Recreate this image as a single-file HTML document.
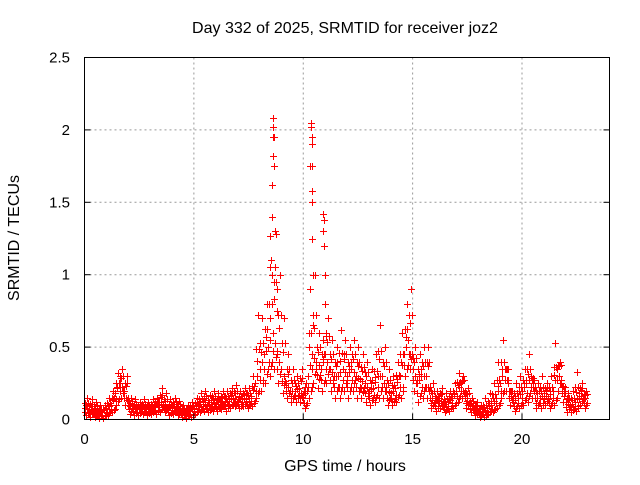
<!DOCTYPE html>
<html><head><meta charset="utf-8"><style>
body{margin:0;background:#fff;font-family:"Liberation Sans",sans-serif}
svg text{font-family:"Liberation Sans",sans-serif;font-size:15px;fill:#000}
svg text.big{font-size:16px}
</style></head><body>
<svg id="chart" width="640" height="480" xmlns="http://www.w3.org/2000/svg">
<text class="big" x="345" y="33" text-anchor="middle">Day 332 of 2025, SRMTID for receiver joz2</text>
<text class="big" x="345" y="471" text-anchor="middle">GPS time / hours</text>
<text class="big" transform="translate(19,238) rotate(-90)" text-anchor="middle">SRMTID / TECUs</text>
<g id="grid"></g><g id="marks"></g><g id="axes"></g>
<rect x="84.5" y="57.5" width="525" height="362" fill="none" stroke="#000" stroke-width="1"/>
</svg>
<script>
const xTicks=[0,5,10,15,20];
const yTicks=[0,0.5,1,1.5,2,2.5];
const yTickLabels=["0","0.5","1","1.5","2","2.5"];
const stepHours=0.2;
const midVals=[
.08,.07,.06,.05,.05,.08,.1,.18,.25,.2,
.1,.08,.07,.08,.07,.08,.09,.12,.1,.08,
.09,.08,.06,.05,.06,.08,.1,.12,.1,.12,
.11,.13,.12,.14,.15,.13,.15,.14,.16,.25,
.35,.45,.5,.6,.45,.35,.25,.2,.2,.22,
.15,.3,.45,.4,.35,.45,.35,.3,.3,.35,
.3,.35,.3,.28,.25,.2,.22,.3,.3,.2,
.18,.22,.3,.45,.55,.35,.25,.3,.3,.15,
.12,.15,.1,.12,.15,.2,.25,.15,.1,.08,
.06,.05,.08,.1,.15,.25,.35,.2,.12,.15,
.2,.25,.3,.15,.15,.18,.15,.2,.35,.25,
.12,.1,.12,.18,.15];
const hiVals=[
.15,.14,.12,.1,.1,.15,.2,.32,.35,.3,
.15,.14,.12,.14,.12,.14,.15,.22,.18,.14,
.15,.13,.1,.1,.12,.15,.18,.2,.17,.2,
.18,.2,.2,.22,.24,.2,.22,.22,.3,.72,
.7,.8,1.1,1.3,1.0,.7,.45,.35,.3,.35,
.25,.9,1.0,.6,.55,.7,.55,.5,.62,.55,
.5,.55,.5,.45,.4,.35,.45,.65,.5,.35,
.3,.4,.6,.8,.9,.5,.45,.5,.5,.25,
.2,.22,.18,.2,.25,.32,.3,.22,.15,.12,
.1,.15,.18,.25,.4,.55,.35,.2,.25,.3,
.35,.45,.25,.25,.3,.25,.3,.53,.4,.2,
.18,.2,.33,.25,.2];
const loVals=[
.03,.02,.02,.01,.01,.03,.05,.1,.15,.1,
.04,.03,.03,.04,.03,.04,.04,.05,.05,.03,
.04,.03,.02,.01,.02,.04,.05,.06,.05,.06,
.06,.07,.06,.08,.09,.08,.09,.08,.09,.15,
.2,.25,.3,.35,.25,.18,.15,.12,.12,.12,
.08,.15,.25,.22,.2,.25,.2,.15,.15,.2,
.15,.2,.15,.15,.12,.1,.12,.15,.15,.1,
.1,.12,.15,.3,.35,.2,.12,.15,.15,.08,
.06,.08,.05,.06,.08,.12,.15,.08,.05,.03,
.02,.02,.04,.05,.08,.15,.2,.1,.06,.08,
.1,.12,.15,.08,.08,.1,.08,.1,.2,.12,
.05,.05,.06,.1,.08];
const spikeHours=[8.5,8.55,8.55,8.6,8.6,8.6,8.62,8.65,8.65,8.7,8.7,8.75,8.75,8.8,8.8,8.5,8.58,
10.3,10.35,10.35,10.38,10.38,10.4,10.4,10.42,10.45,10.45,10.3,10.4,
10.9,10.95,10.95,11.0,11.0,11.05,10.9];
const spikeVals=[1.05,1.4,1.62,1.82,1.95,2.02,2.08,1.75,1.95,1.3,1.05,1.28,0.95,0.9,0.75,1.27,1.0,
1.75,2.05,2.02,1.95,1.9,1.58,1.75,1.25,1.0,0.65,0.9,1.5,
1.42,1.38,1.2,1.0,0.8,0.6,1.3];
const X0=84.5,X1=609.5,Y0=419.5,Y1=57.5;
const xs=h=>X0+h/24*(X1-X0);
const ys=v=>Y0-v/2.5*(Y0-Y1);
const NS="http://www.w3.org/2000/svg";
const grid=document.getElementById('grid'),axes=document.getElementById('axes'),marks=document.getElementById('marks');
function mk(tag,attrs,parent){const e=document.createElementNS(NS,tag);for(const k in attrs)e.setAttribute(k,attrs[k]);parent.appendChild(e);return e;}
xTicks.forEach(t=>{
  const x=xs(t);
  if(t>0){const g=mk('line',{x1:x,x2:x,y1:Y1,y2:Y0,stroke:'#999','stroke-dasharray':'2,3'},grid);
  
  }
  mk('line',{x1:x,x2:x,y1:Y0,y2:Y0-6,stroke:'#000'},axes);
  const tx=mk('text',{x:x,y:444,'text-anchor':'middle'},axes);tx.textContent=t;
  
  
});
yTicks.forEach((t,i)=>{
  const y=ys(t);
  if(t>0&&t<2.5){const g=mk('line',{x1:X0,x2:X1,y1:y,y2:y,stroke:'#999','stroke-dasharray':'2,3'},grid);
  
  }
  mk('line',{x1:X0,x2:X0+6,y1:y,y2:y,stroke:'#000'},axes);
  mk('line',{x1:X1,x2:X1-6,y1:y,y2:y,stroke:'#000'},axes);
  const tx=mk('text',{x:70,y:y+5,'text-anchor':'end'},axes);tx.textContent=yTickLabels[i];
  
  
});
let d='';
function plus(h,v){const x=Math.round(xs(h))+0.5,y=Math.round(ys(v))+0.5;d+=`M${x-3.5} ${y}h7M${x} ${y-3.5}v7`;}
midVals.forEach((v,i)=>{
  const h=i*stepHours,hi=hiVals[i],lo=loVals[i];
  const n=i+1<midVals.length?midVals[i+1]:v;
  plus(h,v);plus(h+0.1,(v+n)/2);
  plus(h+0.04,(v+hi)/2);plus(h+0.08,(v*2+hi)/3);plus(h+0.12,hi);plus(h+0.16,(v+hi)/2);
  plus(h+0.02,(v+lo)/2);plus(h+0.06,lo);plus(h+0.14,(v+lo*2)/3);plus(h+0.18,(v+lo)/2);
});
spikeHours.forEach((h,i)=>plus(h,spikeVals[i]));
const p=mk('path',{d:d,stroke:'#f00','stroke-width':1,fill:'none'},marks);


</script>
</body></html>
